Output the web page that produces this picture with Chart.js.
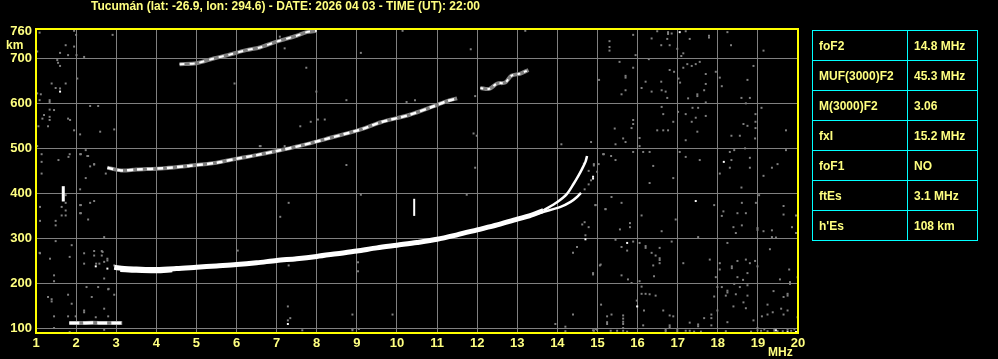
<!DOCTYPE html>
<html>
<head>
<meta charset="utf-8">
<script src="https://cdn.jsdelivr.net/npm/chart.js@4"></script>
<style>
  body { margin: 0; background: #000; overflow: hidden; }
  #wrap { position: relative; width: 998px; height: 359px; }
  #params {
    position: absolute; left: 812px; top: 30px;
    border-collapse: collapse; border: 1px solid #00ffff;
    font: bold 12px "Liberation Sans", Arial, sans-serif; color: #ffff80;
  }
  #params td { border: 1px solid #00ffff; height: 29px; padding: 0 0 0 6px; white-space: nowrap; }
  #params td:first-child { width: 88px; }
  #params td:last-child { width: 63px; }
</style>
</head>
<body>
<div id="wrap">
  <canvas id="iono" width="998" height="359"></canvas>
  <table id="params"></table>
</div>
<script>
const title = 'Tucumán (lat: -26.9, lon: 294.6) - DATE: 2026 04 03 - TIME (UT): 22:00';
const freqTicks = [1,2,3,4,5,6,7,8,9,10,11,12,13,14,15,16,17,18,19,20];
const heightTicks = [100,200,300,400,500,600,700,760];

const paramNames = ['foF2','MUF(3000)F2','M(3000)F2','fxI','foF1','ftEs',"h'Es"];
const paramValues = ['14.8 MHz','45.3 MHz','3.06','15.2 MHz','NO','3.1 MHz','108 km'];

// traces [MHz, km]
const traceF1 = [[2.95,236],[3.2,233],[3.5,232],[4,231],[4.5,233],[5,236],[5.5,239],[6,242],[6.5,246],[7,251],[7.5,255],[8,260],[8.5,266],[9,272],[9.5,279],[10,285],[10.5,291],[11,298],[11.5,308],[12,319],[12.5,330],[13,343],[13.3,350],[13.65,362]];
const traceF1Lower = [[3.1,229],[3.5,227],[4,226],[4.4,228]];
const branchO = [[13.65,362],[14,381],[14.24,399],[14.41,422],[14.53,440],[14.62,455],[14.7,470],[14.74,483]];
const branchX = [[13.3,350],[13.66,359],[14.08,370],[14.33,381],[14.49,392],[14.59,401]];
const traceF2 = [[2.78,457],[3.12,451],[3.5,453],[4.2,456],[4.8,461],[5.5,468],[6,477],[6.5,485],[7,494],[7.6,506],[8.2,520],[9.1,542],[9.6,558],[10.3,574],[10.9,593],[11.25,605],[11.5,611]];
const traceF2Upper = [[12.08,634],[12.3,632],[12.5,644],[12.7,646],[12.85,661],[13.08,666],[13.28,674]];
const traceF3 = [[4.58,687],[5,689],[5.45,700],[5.78,707],[6.24,718],[6.58,724],[7,737],[7.5,750],[7.75,758],[8,761]];
const traceEs = [[1.83,112],[2.1,112],[2.4,113],[2.7,112],[3.0,112],[3.15,112]];
const spikeA = [[1.68,416],[1.68,382]];
const spikeB = [[10.43,388],[10.43,350]];

const noiseWhite = [[1.6,626],[17.05,758],[18.15,470],[14.89,437],[14.89,433],[17.45,383],[15.74,290],[15.99,149],[7.28,110],[14.7,298],[19.45,96],[19.74,92],[19.95,92],[2.49,238],[2.78,233]];

const noiseGray = [
[1.09,757],[1.95,761],[2.0,752],[2.91,752],[1.03,715],[1.74,729],[1.95,726],[1.6,712],[1.8,707],[2.01,707],[2.2,703],[1.53,696],[1.55,690],[1.6,683],[2.03,655],[1.39,644],[1.74,644],[1.49,634],[1.6,633],[1.03,622],[1.12,620],[1.09,607],[1.34,607],[1.34,603],[2.35,594],[2.55,594],[1.34,586],[1.45,585],[1.2,574],[1.16,566],[1.34,570],[1.34,563],[1.8,566],[1.85,563],[1.06,549],[1.3,549],[1.95,540],[2.1,531],[2.6,537],[2.95,542],
[1.03,505],[1.14,487],[1.14,470],[1.14,444],[1.56,474],[1.81,481],[1.84,487],[2.1,487],[2.3,483],[2.24,496],[2.35,460],[2.45,464],[2.74,444],[2.24,434],[2.1,409],[1.74,396],[1.74,379],[1.64,370],[1.74,362],[1.64,351],[1.74,351],[2.1,374],[2.1,356],[2.35,379],[2.45,383],[2.3,342],[1.1,370],[1.1,339],[1.49,339],[1.49,329],[1.49,294],[1.89,285],[2.7,303],[2.45,272],[2.64,272],[2.64,262],[2.2,267],[1.1,267],[1.84,259],[1.35,255],[2.78,255],[2.12,487],[2.28,483],[2.45,465],[2.12,374],[2.12,356],
[1.09,268],[1.45,218],[1.45,205],[1.3,170],[1.39,165],[1.39,160],[1.8,175],[1.89,155],[2.26,192],[2.39,170],[2.55,192],[2.8,187],[2.95,175],[2.7,144],[2.2,140],[2.2,136],[2.49,125],[2.8,127],[1.45,127],[1.8,127],[1.99,127],[2.7,97],[1.84,92],[1.45,101],[2.7,211],[2.81,188],
[2.5,244],[2.58,244],[2.7,248],[2.78,251],[2.95,240],[2.2,244],[2.45,262],[2.66,270],
[1.9,114],[2.15,113],[2.35,114],[2.55,112],[2.85,114],[3.05,113],
[6.58,505],[7.2,505],[8.74,463],[9.1,397],[7.3,379],[7.09,348],[6.03,273],[9.03,247],[9.03,227],[7.3,240],[7.28,149],[7.34,123],[7.28,118],[7.64,96],[8.89,131],[8.89,96],[8.89,99],[9.05,99],[9.89,131],[11.95,457],[11.74,397],
[7.08,748],[7.24,743],[7.2,722],[7.47,748],[9.1,712],[10.14,761],[7.74,679],[5.95,644],[7.99,626],[8.74,607],[10.24,603],[10.45,607],[11.84,720],[11.95,616],[11.91,533],[11.99,528],[13.2,761],[7.59,549],[7.85,559],[8.2,564],[8.03,564],[6.6,505],
[14.1,509],[14.84,514],[15.14,487],[15.03,465],[14.91,465],[14.91,462],[14.66,466],[14.78,450],[14.99,448],[14.84,429],[14.78,420],[14.68,409],[14.95,374],[15.2,365],[14.68,336],[14.62,331],[14.78,325],[14.7,307],[14.49,281],[14.39,268],[15.06,240],[14.89,223],[13.95,110],[14.2,104],[14.2,94],[14.39,131],[14.89,96],[14.95,99],
[16.49,760],[16.76,758],[16.76,754],[16.85,755],[17.2,760],[17.78,750],[17.78,746],[18.24,758],[15.89,752],[16.35,744],[16.74,743],[17.3,743],[15.3,738],[15.3,725],[15.3,717],[16.59,729],[16.8,729],[16.99,721],[17.14,711],[17.09,705],[18.33,729],[19.14,717],[15.95,707],[15.55,692],[15.89,679],[16.28,698],[17.24,687],[17.35,683],[17.45,687],[17.55,692],[16.8,674],[16.91,670],[17.14,679],[15.7,661],[15.7,657],[17.7,665],[17.95,670],[18.05,657],[18.89,683],[15.04,652],[17.02,655],[17.06,646],[16.2,648],[16.59,648],[17.7,643],[18.1,638],[18.74,652],
[15.7,629],[15.6,620],[16.1,634],[16.35,626],[16.6,629],[16.7,626],[16.74,612],[17.49,620],[17.49,616],[17.26,611],[17.66,629],[17.7,602],[18.59,612],[18.8,612],[18.7,600],[19.09,590],[16.6,592],[17.01,581],[17.37,590],[17.2,576],[17.51,590],[17.7,572],[16.64,576],[17.45,568],[15.89,563],[16.89,559],[17.35,559],[15.89,554],[15.43,544],[15.85,545],[16.49,540],[16.64,540],[16.76,540],[17.49,537],[18.64,554],[18.74,550],[18.94,576],[18.94,559],[18.94,545],[19.7,540],[18.34,528],[18.55,528],[18.93,522],[15.64,522],[15.7,514],[15.45,509],[17.2,518],[16.05,523],[16.05,505],
[15.16,487],[15.34,483],[15.45,474],[15.89,492],[16.14,492],[16.3,492],[17.05,492],[17.2,481],[17.55,474],[18.3,492],[18.41,496],[18.68,500],[18.8,479],[18.34,474],[19.7,496],[19.49,465],[19.35,457],[18.8,457],[18.3,457],[16.39,461],[16.89,434],[16.3,423],[18.05,444],[19.14,439],
[18.59,413],[19.03,396],[15.35,392],[15.6,379],[15.2,365],[14.95,374],[16.1,351],[16.95,342],[17.91,374],[18.14,360],[18.1,350],[18.49,356],[18.7,356],[18.6,379],[18.95,379],[19.64,372],[19.64,353],[19.95,351],[15.81,334],[15.81,325],[15.56,320],[16.6,316],[18.39,325],[18.6,329],[18.45,312],[18.99,323],[18.99,319],[19.14,316],[19.35,318],[19.85,325],[19.95,312],[19.35,303],[19.45,302],[17.51,303],[16.85,293],[18.24,290],[15.45,297],[15.89,293],[16.05,290],[15.6,281],[15.74,273],[16.2,283],[16.2,279],[16.55,279],[16.35,268],[16.45,262],[16.55,256],[16.55,252],[16.39,240],[16.55,245],[15.08,242],[14.89,220],[15.6,218],[15.76,209],[16.41,216],[17.14,245],[17.8,253],[18.05,245],[18.05,231],[18.35,238],[18.35,234],[18.49,250],[18.7,253],[18.8,245],[18.93,250],[18.99,238],[18.74,223],[18.49,214],[18.63,208],[19.3,276],[19.78,231],[19.55,209],[19.8,203],[19.8,199],[19.99,214],[17.95,214],
[16.05,205],[15.85,201],[16.1,193],[16.1,177],[16.2,177],[16.3,176],[16.45,173],[17.99,192],[18.1,192],[18.24,184],[18.24,180],[18.41,199],[18.55,192],[18.74,196],[18.2,173],[18.45,176],[18.74,173],[17.91,171],[19.39,183],[19.64,170],[19.74,177],[19.74,173],[18.64,158],[18.7,145],[18.39,149],[19.24,153],[19.58,144],[19.64,131],[19.74,140],[19.37,136],[19.1,127],[19.24,131],[18.89,118],[19.99,125],[15.09,153],[15.98,162],[16.16,140],[16.64,140],[16.8,129],[16.89,127],[15.64,129],[15.64,122],[15.64,115],[15.35,131],[15.24,127],[15.24,114],[15.24,110],[15.64,110],[16.14,107],[16.8,107],[16.8,103],[17.3,113],[17.51,109],[17.51,105],[17.66,123],[17.84,131],[17.84,123],[17.84,107],[18.24,114],[17.99,140],
[14.91,95],[14.99,97],[15.33,95],[15.49,95],[15.64,95],[15.64,101],[15.74,93],[16.7,94],[16.7,97],[16.99,93],[16.99,97],[17.2,95],[17.3,95],[17.41,93],[17.58,93],[18.2,94],[18.83,93],[18.99,96],[18.99,101],[19.08,95],[19.16,98],[19.24,94],[19.41,99],[19.41,95],[19.49,94],[19.62,94],[19.74,97],[19.83,95],[19.91,98]
];

const pts = a => a.map(([x, y]) => ({ x, y }));

function lineSet(arr, color, width, dash) {
  return {
    type: 'line', data: pts(arr), borderColor: color, borderWidth: width,
    borderDash: dash || [], pointRadius: 0, tension: 0.3, fill: false
  };
}

const frame = {
  id: 'frame',
  afterDatasetsDraw(chart) {
    const { ctx, chartArea: a } = chart;
    ctx.save();
    ctx.strokeStyle = '#ffff00';
    ctx.lineWidth = 2;
    ctx.strokeRect(a.left, a.top, a.right - a.left, a.bottom - a.top);
    ctx.restore();
  },
  afterDraw(chart) {
    const ctx = chart.ctx;
    ctx.save();
    ctx.fillStyle = '#ffff80';
    ctx.textBaseline = 'alphabetic';
    ctx.textAlign = 'left';
    ctx.font = 'bold 12px "Liberation Sans", Arial, sans-serif';
    ctx.fillText(title, 91, 10);
    ctx.fillText('km', 6, 49);
    ctx.fillText('MHz', 768, 356);
    ctx.restore();
  }
};

const tickFont = { family: '"Liberation Sans", Arial, sans-serif', weight: 'bold', size: 13 };

// listed bottom-up; reversed below because Chart.js paints dataset 0 last (on top)
const layers = [
  { data: pts(noiseGray), backgroundColor: '#808080', pointStyle: 'rect', pointRadius: 1.4, borderWidth: 0 },
  lineSet(traceF3, '#808080', 4),
  lineSet(traceF3, '#ffffff', 2, [5, 5]),
  lineSet(traceF2, '#808080', 4),
  lineSet(traceF2, '#ffffff', 2.5, [6, 4]),
  lineSet(traceF2Upper, '#808080', 4),
  lineSet(traceF2Upper, '#ffffff', 2, [3, 4]),
  lineSet(traceEs, '#808080', 4),
  lineSet(traceEs, '#ffffff', 3, [10, 4]),
  lineSet(traceF1, '#ffffff', 5),
  lineSet(traceF1Lower, '#ffffff', 3),
  lineSet(branchO, '#ffffff', 2.5),
  lineSet(branchX, '#ffffff', 2.5),
  lineSet(spikeA, '#ffffff', 3),
  lineSet(spikeB, '#ffffff', 2),
  { data: pts(noiseWhite), backgroundColor: '#ffffff', pointStyle: 'rect', pointRadius: 1.4, borderWidth: 0 }
];

new Chart(document.getElementById('iono'), {
  type: 'scatter',
  data: { datasets: layers.reverse() },
  options: {
    responsive: false,
    animation: false,
    devicePixelRatio: 1,
    layout: { padding: { top: 29, right: 200, left: 0, bottom: 0 } },
    plugins: { legend: { display: false }, tooltip: { enabled: false } },
    scales: {
      x: {
        type: 'linear', min: 1, max: 20,
        afterFit(s) { s.height = 26; },
        afterBuildTicks(s) { s.ticks = freqTicks.map(v => ({ value: v })); },
        grid: { color: '#808080', drawTicks: false },
        border: { display: false },
        ticks: { color: '#ffff80', font: tickFont, padding: 3, maxRotation: 0, autoSkip: false }
      },
      y: {
        type: 'linear', min: 90, max: 765,
        afterFit(s) { s.width = 36; },
        afterBuildTicks(s) { s.ticks = heightTicks.map(v => ({ value: v })); },
        grid: {
          color: c => (c.tick && c.tick.value === 760) ? 'rgba(0,0,0,0)' : '#808080',
          drawTicks: false
        },
        border: { display: false },
        ticks: { color: '#ffff80', font: tickFont, padding: 4, autoSkip: false }
      }
    }
  },
  plugins: [frame]
});

document.getElementById('params').innerHTML = paramNames
  .map((n, i) => '<tr><td>' + n + '</td><td>' + paramValues[i] + '</td></tr>').join('');
</script>
</body>
</html>
